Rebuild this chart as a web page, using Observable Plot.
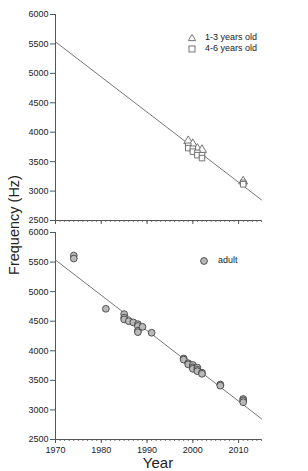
<!DOCTYPE html>
<html>
<head>
<meta charset="utf-8">
<script src="https://cdn.jsdelivr.net/npm/d3@7"></script>
<script src="https://cdn.jsdelivr.net/npm/@observablehq/plot@0.6"></script>
<style>
  html, body { margin: 0; padding: 0; background: #fff; }
  #wrap { position: relative; width: 308px; height: 471px; overflow: hidden; font-family: "Liberation Sans", Arial, sans-serif; color: #222; }
  #wrap svg { display: block; }
  .lab { position: absolute; white-space: nowrap; }
  .leg { position: absolute; font-size: 9px; line-height: 9px; white-space: nowrap; }
</style>
</head>
<body>
<div id="wrap"></div>
<script>
// ---- data ----
const yTicks = [2500, 3000, 3500, 4000, 4500, 5000, 5500, 6000];
const decadeTicks = [1970, 1980, 1990, 2000, 2010];
const yearTicks = d3.range(1970, 2016);

const fitYears = [1970, 2015];
const fitFreq = [5535, 2850];

const young13Years = [1999, 2000, 2001, 2002, 2011];
const young13Freq  = [3850, 3800, 3720, 3700, 3165];

const young46Years = [1999, 1999, 2000, 2000, 2001, 2001, 2002, 2002, 2011, 2011];
const young46Freq  = [3770, 3730, 3720, 3670, 3650, 3610, 3610, 3560, 3140, 3115];

const adultYears = [1974, 1974, 1981, 1985, 1985, 1985, 1986, 1987, 1988, 1988, 1988, 1988, 1989, 1991,
                    1998, 1998, 1999, 1999, 2000, 2000, 2000, 2001, 2001, 2001, 2002, 2002, 2006, 2006, 2011, 2011, 2011];
const adultFreq  = [5610, 5560, 4710, 4620, 4560, 4530, 4500, 4480, 4450, 4420, 4340, 4315, 4405, 4305,
                    3870, 3850, 3790, 3770, 3760, 3720, 3695, 3715, 3680, 3655, 3630, 3610, 3430, 3410, 3185, 3160, 3130];

const legendTop = ["1-3 years old", "4-6 years old"];
const legendBottom = ["adult"];

// ---- tables ----
const zip = (xs, ys) => xs.map((x, i) => ({year: x, freq: ys[i]}));
const fit = zip(fitYears, fitFreq);
const y13 = zip(young13Years, young13Freq);
const y46 = zip(young46Years, young46Freq);
const adult = zip(adultYears, adultFreq);

const W = 308;
const common = {
  width: W,
  marginLeft: 55,
  marginRight: 47,
  x: {domain: [1970, 2015]},
  y: {domain: [2500, 6000]},
  style: {fontFamily: "'Liberation Sans', Arial, sans-serif", fontSize: "9px", color: "#222", background: "#fff"}
};

function axes(showXLabels) {
  return [
    Plot.axisY({ticks: yTicks, tickSize: 5, tickPadding: 2, tickFormat: "d", label: null, stroke: "#555"}),
    Plot.axisX({ticks: yearTicks, tickSize: 2, tickFormat: () => "", label: null, stroke: "#777"}),
    Plot.axisX({ticks: decadeTicks, tickSize: 4, tickPadding: 3, tickFormat: showXLabels ? "d" : () => "", label: null, stroke: "#555"}),
    Plot.ruleX([1970], {stroke: "#555"}),
    Plot.ruleY([2500], {stroke: "#555"})
  ];
}

const topChart = Plot.plot({
  ...common,
  height: 226,
  marginTop: 14,
  marginBottom: 6,
  marks: [
    ...axes(false),
    Plot.line(fit, {x: "year", y: "freq", stroke: "#777", strokeWidth: 1}),
    Plot.dot(y13, {x: "year", y: "freq", symbol: "triangle", r: 3.3, fill: "#fff", stroke: "#666", strokeWidth: 0.9}),
    Plot.dot(y46, {x: "year", y: "freq", symbol: "square", r: 3.1, fill: "#fff", stroke: "#666", strokeWidth: 0.9})
  ]
});

const bottomChart = Plot.plot({
  ...common,
  height: 245,
  marginTop: 6,
  marginBottom: 32,
  marks: [
    ...axes(true),
    Plot.line(fit, {x: "year", y: "freq", stroke: "#777", strokeWidth: 1}),
    Plot.dot(adult, {x: "year", y: "freq", r: 3.4, fill: "#b9b9b9", stroke: "#333", strokeWidth: 0.8})
  ]
});

const wrap = document.getElementById("wrap");
wrap.appendChild(topChart);
wrap.appendChild(bottomChart);

// y label
const yl = document.createElement("div");
yl.className = "lab";
yl.textContent = "Frequency (Hz)";
yl.style.cssText = "left:14px;top:225px;font-size:14.5px;transform:translate(-50%,-50%) rotate(-90deg);";
wrap.appendChild(yl);

// x label
const xl = document.createElement("div");
xl.className = "lab";
xl.textContent = "Year";
xl.style.cssText = "left:158px;top:462px;font-size:15px;line-height:15px;transform:translate(-50%,-50%);";
wrap.appendChild(xl);

// legends
function legendItem(label, symbol, cx, cy, tx) {
  const ns = "http://www.w3.org/2000/svg";
  const s = document.createElementNS(ns, "svg");
  s.setAttribute("width", 10); s.setAttribute("height", 10);
  s.style.cssText = `position:absolute;left:${cx - 5}px;top:${cy - 5}px;overflow:visible;`;
  let el;
  if (symbol === "triangle") {
    el = document.createElementNS(ns, "path");
    el.setAttribute("d", "M5,1.3L8.6,7.6H1.4Z");
    el.setAttribute("fill", "#fff"); el.setAttribute("stroke", "#666"); el.setAttribute("stroke-width", 0.9);
  } else if (symbol === "square") {
    el = document.createElementNS(ns, "rect");
    el.setAttribute("x", 2); el.setAttribute("y", 2); el.setAttribute("width", 6); el.setAttribute("height", 6);
    el.setAttribute("fill", "#fff"); el.setAttribute("stroke", "#666"); el.setAttribute("stroke-width", 0.9);
  } else {
    el = document.createElementNS(ns, "circle");
    el.setAttribute("cx", 5); el.setAttribute("cy", 5); el.setAttribute("r", 3.4);
    el.setAttribute("fill", "#b9b9b9"); el.setAttribute("stroke", "#333"); el.setAttribute("stroke-width", 0.8);
  }
  s.appendChild(el);
  wrap.appendChild(s);
  const t = document.createElement("div");
  t.className = "leg";
  t.textContent = label;
  t.style.left = tx + "px";
  t.style.top = (cy - 5) + "px";
  wrap.appendChild(t);
}
legendItem(legendTop[0], "triangle", 192, 38, 205);
legendItem(legendTop[1], "square", 192, 49, 205);
legendItem(legendBottom[0], "circle", 204, 261, 218);
</script>
</body>
</html>
